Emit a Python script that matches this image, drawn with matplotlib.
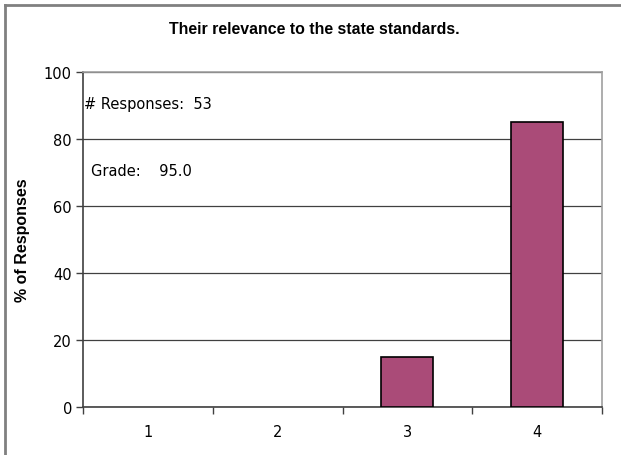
import matplotlib
matplotlib.use("Agg")
import matplotlib.pyplot as plt
from matplotlib.lines import Line2D

categories = ["1", "2", "3", "4"]
values = [0, 0, 15, 85]
yticks = [0, 20, 40, 60, 80, 100]
title = "Their relevance to the state standards."
ylabel = "% of Responses"
responses_text = "# Responses:  53"
grade_text = "Grade:    95.0"

plt.rcParams['font.family'] = ['DejaVu Sans']

fig = plt.figure(figsize=(6.21, 4.56), dpi=100)
ax = fig.add_axes([83/621, 48/456, 519/621, 335/456])

pos = list(range(1, len(categories) + 1))
edge = ["black" if v > 0 else "none" for v in values]
ax.bar(pos, values, width=0.4, color="#AA4B78", edgecolor=edge, linewidth=1.2, zorder=3)

ax.set_xlim(0.5, len(categories) + 0.5)
ax.set_ylim(0, 100)
ax.set_yticks(yticks)
ax.set_yticklabels([str(t) for t in yticks], fontsize=10.5)
ax.yaxis.grid(True, color="#404040", linewidth=0.9, zorder=0)

ax.set_xticks([p + 0.5 for p in [0] + pos])
ax.set_xticklabels([])
ax.set_xticks(pos, minor=True)
ax.set_xticklabels(categories, minor=True, fontsize=10.5)
ax.tick_params(axis='x', which='minor', length=0, pad=12)
ax.tick_params(axis='x', which='major', length=5, width=1, color="#404040", direction='out')
ax.tick_params(axis='y', length=5, width=1, color="#404040", direction='out', pad=3)

for s in ['left', 'bottom']:
    ax.spines[s].set_color("#404040")
    ax.spines[s].set_linewidth(1.2)
for s in ['top', 'right']:
    ax.spines[s].set_color("#A0A0A0")
    ax.spines[s].set_linewidth(1.2)

ax.set_ylabel(ylabel, fontsize=11.5, fontweight='bold', family=['Liberation Sans', 'DejaVu Sans'])
ax.yaxis.set_label_coords(-(83 - 30) / 519, 0.5)

fig.text(314/621, 1 - 30/456, title, ha='center', va='center', fontsize=11.4,
         fontweight='bold', family=['Liberation Sans', 'DejaVu Sans'])
fig.text(84/621, 1 - 105/456, responses_text, ha='left', va='center', fontsize=10.5)
fig.text(91/621, 1 - 172/456, grade_text, ha='left', va='center', fontsize=10.5)

# figure frame (top and left edges)
fig.add_artist(Line2D([5/621, 5/621], [0, 1 - 6/456], transform=fig.transFigure, color="#808080", linewidth=2))
fig.add_artist(Line2D([5/621, 1], [1 - 6/456, 1 - 6/456], transform=fig.transFigure, color="#808080", linewidth=2))

fig.savefig("out.png", dpi=100)
